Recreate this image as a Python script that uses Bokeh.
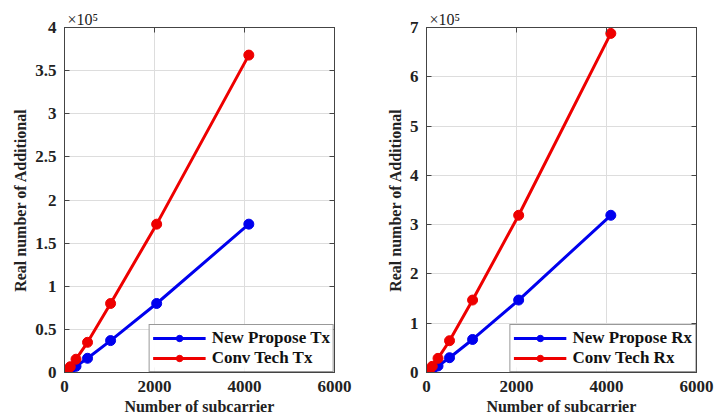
from bokeh.plotting import figure
from bokeh.layouts import row
from bokeh.models import LinearAxis, Title, CustomJSTickFormatter, FixedTicker, Range1d, Legend, LegendItem
from bokeh.embed import file_html
from bokeh.resources import INLINE

subcarriers = [16, 32, 64, 128, 256, 512, 1024, 2048, 4096]
new_tx = [224, 560, 1340, 3140, 7200, 16500, 37000, 80000, 172000]
conv_tx = [480, 1200, 2880, 6720, 15400, 35000, 80000, 172000, 368000]
new_rx = [420, 1040, 2500, 5800, 13300, 30000, 67000, 147000, 319000]
conv_rx = [900, 2240, 5400, 12500, 28700, 64500, 147000, 319000, 688000]

x_ticks = [0, 2000, 4000, 6000]
left_y_ticks = [0, 50000, 100000, 150000, 200000, 250000, 300000, 350000, 400000]
right_y_ticks = [0, 100000, 200000, 300000, 400000, 500000, 600000, 700000]

FONT = "Liberation Serif"
BLUE = "#0000ee"
RED = "#ee0000"


def make(ys_new, ys_conv, labels, yticks, ymax, bl, br, width):
    p = figure(width=width, height=417, output_backend="svg", toolbar_location=None,
               x_range=Range1d(0, 6000), y_range=Range1d(0, ymax),
               min_border_left=bl, min_border_right=br, min_border_top=27, min_border_bottom=45)
    p.background_fill_color = "white"
    p.border_fill_color = "white"
    p.outline_line_color = "#444444"
    p.outline_line_width = 1

    for ax in (p.xaxis[0], p.yaxis[0]):
        ax.major_tick_in = 5
        ax.major_tick_out = 0
        ax.minor_tick_in = 0
        ax.minor_tick_out = 0
        ax.axis_line_color = "#444444"
        ax.major_tick_line_color = "#444444"
        ax.major_label_text_font = FONT
        ax.major_label_text_font_style = "bold"
        ax.major_label_text_font_size = "17px"
        ax.major_label_text_color = "#222222"
        ax.axis_label_text_font = FONT
        ax.axis_label_text_font_style = "bold"
        ax.axis_label_text_font_size = "16px"
        ax.axis_label_text_color = "#222222"
        ax.major_label_standoff = 8
        ax.axis_label_standoff = 3

    p.xaxis.ticker = FixedTicker(ticks=x_ticks)
    p.yaxis.ticker = FixedTicker(ticks=yticks)
    p.yaxis.formatter = CustomJSTickFormatter(code="return String(Math.round(tick/1e4)/10);")
    p.xaxis.axis_label = "Number of subcarrier"
    p.yaxis.axis_label = "Real number of Additional"

    for loc, tk in (("above", x_ticks), ("right", yticks)):
        a = LinearAxis(ticker=FixedTicker(ticks=tk), major_tick_in=5, major_tick_out=0,
                       minor_tick_in=0, minor_tick_out=0,
                       formatter=CustomJSTickFormatter(code="return '';"),
                       major_label_text_font_size="8px",
                       axis_line_color="#444444", major_tick_line_color="#444444",
                       major_label_standoff=0)
        p.add_layout(a, loc)

    p.add_layout(Title(text="×10⁵", align="left", offset=3, standoff=0,
                       text_font=FONT, text_font_size="16px", text_font_style="normal",
                       text_color="#222222"), "above")

    p.grid.grid_line_color = "#dddddd"
    p.grid.grid_line_width = 1

    r1 = p.line(subcarriers, ys_new, line_color=BLUE, line_width=3)
    c1 = p.scatter(subcarriers, ys_new, size=10, fill_color=BLUE, line_color=BLUE)
    r2 = p.line(subcarriers, ys_conv, line_color=RED, line_width=3)
    c2 = p.scatter(subcarriers, ys_conv, size=10, fill_color=RED, line_color=RED)

    leg = Legend(items=[LegendItem(label=labels[0], renderers=[r1, c1]),
                        LegendItem(label=labels[1], renderers=[r2, c2])],
                 location="bottom_right")
    leg.label_text_font = FONT
    leg.label_text_font_style = "bold"
    leg.label_text_font_size = "17px"
    leg.label_text_color = "#111111"
    leg.border_line_color = "#333333"
    leg.border_line_width = 1
    leg.margin = 0
    leg.padding = 3
    leg.spacing = 0
    leg.glyph_width = 53
    leg.glyph_height = 16
    leg.label_height = 16
    leg.label_standoff = 6
    p.add_layout(leg, "center")
    return p


p1 = make(new_tx, conv_tx, ["New Propose Tx", "Conv Tech Tx"], left_y_ticks, 400000, 64, 23, 357)
p2 = make(new_rx, conv_rx, ["New Propose Rx", "Conv Tech Rx"], right_y_ticks, 700000, 69, 18, 357)

layout = row(p1, p2, spacing=0)
open("out.html", "w").write(file_html(layout, INLINE))
